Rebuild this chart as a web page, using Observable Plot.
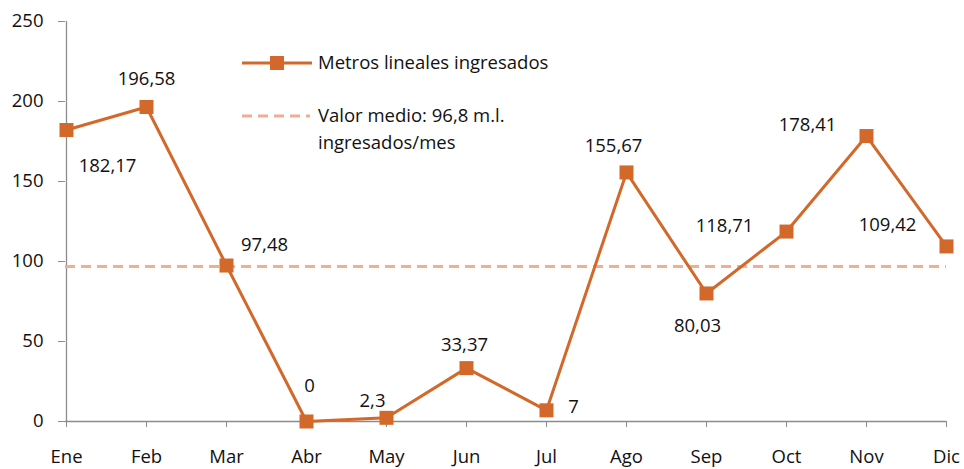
<!DOCTYPE html>
<html>
<head>
<meta charset="utf-8">
<script src="https://cdn.jsdelivr.net/npm/d3@7"></script>
<script src="https://cdn.jsdelivr.net/npm/@observablehq/plot@0.6"></script>
<style>
  html, body { margin: 0; padding: 0; background: #fff; }
  #chart { width: 964px; height: 469px; overflow: hidden; }
</style>
</head>
<body>
<div id="chart"></div>
<script>
const months = ["Ene","Feb","Mar","Abr","May","Jun","Jul","Ago","Sep","Oct","Nov","Dic"];
const values = [182.17, 196.58, 97.48, 0, 2.3, 33.37, 7, 155.67, 80.03, 118.71, 178.41, 109.42];
const meanValue = 96.8;
const yTicks = [0, 50, 100, 150, 200, 250];
const seriesName = "Metros lineales ingresados";
const meanLabelLines = ["Valor medio: 96,8 m.l.", "ingresados/mes"];

// label offsets (pixels) relative to each point
const labelDx = [41, 0, 38, 3, -14, -2, 27, -13, -9, -62, -59, -59];
const labelDy = [36, -28, -20, -35, -17, -23, -3, -26, 33, -5, -11, -21];

const data = months.map((m, i) => ({month: m, value: values[i], i}));
const fmt = v => String(v).replace(".", ",");

const FONT = "Open Sans";
const FS = 18.5;
const lineColor = "#D2692A";
const meanColor = "#F4AE8E";
const axisColor = "#8C8C8C";

const labelMarks = data.map(d => Plot.text([d], {
  x: "month", y: "value", text: d => fmt(d.value),
  dx: labelDx[d.i], dy: labelDy[d.i], fill: "#111", fontSize: FS
}));

const svg = Plot.plot({
  width: 964,
  height: 469,
  marginLeft: 65,
  marginRight: 18,
  marginTop: 21,
  marginBottom: 48,
  style: {fontFamily: FONT, fontSize: FS + "px", color: "#111", background: "#fff"},
  x: {type: "point", domain: months, padding: 0},
  y: {domain: [0, 250]},
  marks: [
    Plot.ruleX([months[0]], {stroke: axisColor, strokeWidth: 1.3}),
    Plot.ruleY([0], {stroke: axisColor, strokeWidth: 1.3}),
    Plot.axisY({ticks: yTicks, tickSize: 7, tickPadding: 15, stroke: axisColor, fill: "#111", label: null, fontSize: FS}),
    Plot.axisX({tickSize: 6, tickPadding: 22, stroke: axisColor, fill: "#111", label: null, fontSize: FS}),
    Plot.ruleY([meanValue], {stroke: meanColor, strokeWidth: 3, strokeDasharray: "10,6"}),
    Plot.line(data, {x: "month", y: "value", stroke: lineColor, strokeWidth: 3}),
    Plot.dot(data, {x: "month", y: "value", symbol: "square", fill: lineColor, r: 7.9, stroke: "none"}),
    ...labelMarks
  ]
});

// legend drawn inside the plot area
const g = d3.select(svg).append("g")
  .attr("font-family", FONT).attr("font-size", FS).attr("fill", "#111").attr("text-anchor", "start");
g.append("line").attr("x1", 242).attr("x2", 312).attr("y1", 63).attr("y2", 63)
  .attr("stroke", lineColor).attr("stroke-width", 3);
g.append("rect").attr("x", 270).attr("y", 56).attr("width", 14).attr("height", 14).attr("fill", lineColor);
g.append("text").attr("x", 318).attr("y", 63).attr("dy", "0.35em").text(seriesName);
g.append("line").attr("x1", 242).attr("x2", 310).attr("y1", 116).attr("y2", 116)
  .attr("stroke", meanColor).attr("stroke-width", 3).attr("stroke-dasharray", "10,6");
g.append("text").attr("x", 318).attr("y", 116).attr("dy", "0.35em").text(meanLabelLines[0]);
g.append("text").attr("x", 318).attr("y", 143).attr("dy", "0.35em").text(meanLabelLines[1]);

document.getElementById("chart").appendChild(svg);
</script>
</body>
</html>
